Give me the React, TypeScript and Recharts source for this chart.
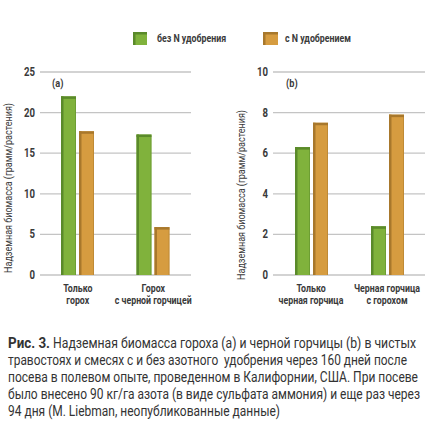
import React from 'react';
import { BarChart, Bar, XAxis, YAxis, CartesianGrid } from 'recharts';

const categoriesA = ['Только|горох', 'Горох|с черной горчицей'];
const peaWithoutN = [22.0, 17.3];
const peaWithN = [17.7, 5.9];
const ticksA = [0, 5, 10, 15, 20, 25];

const categoriesB = ['Только|черная горчица', 'Черная горчица|с горохом'];
const mustardWithoutN = [6.3, 2.4];
const mustardWithN = [7.5, 7.9];
const ticksB = [0, 2, 4, 6, 8, 10];

const legendLabels = ['без N удобрения', 'с N удобрением'];
const yAxisLabel = 'Надземная биомасса (грамм/растения)';
const captionBold = 'Рис. 3.';
const captionLines = [
  'Надземная биомасса гороха (a) и черной горчицы (b) в чистых',
  'травостоях и смесях с и без азотного  удобрения через 160 дней после',
  'посева в полевом опыте, проведенном в Калифорнии, США. При посеве',
  'было внесено 90 кг/га азота (в виде сульфата аммония) и еще раз через',
  '94 дня (M. Liebman, неопубликованные данные)',
];
// layout: start x and rendered width of each caption line (px)
const captionStarts = [53, 8, 8, 8, 8];
const captionWidths = [363, 399, 410, 412, 272];

const dataA = categoriesA.map((c, i) => ({ name: c, noN: peaWithoutN[i], withN: peaWithN[i] }));
const dataB = categoriesB.map((c, i) => ({ name: c, noN: mustardWithoutN[i], withN: mustardWithN[i] }));

const FONT = "Roboto, 'Liberation Sans', sans-serif";
const TXT = '#3a3a3a';
const SX = 0.8;
const CAP_SX = 0.74;
const GREEN = '#80b23c';
const GREEN_DARK = '#5a8a2a';
const ORANGE = '#d69c40';
const ORANGE_DARK = '#a8782c';

const makeShape = (fill: string, dark: string) => (props: any) => {
  const { x, y, width, height } = props;
  if (!height || height <= 0) return null;
  return (
    <g>
      <rect x={x} y={y} width={width} height={height} fill={fill} />
      <rect x={x} y={y} width={2.5} height={height} fill={dark} />
      <rect x={x} y={y} width={width} height={2.5} fill={dark} />
      <rect x={x + width - 1} y={y + 2} width={1} height={height - 2} fill={dark} opacity={0.5} />
    </g>
  );
};

const Cond = ({ x, y, sx = SX, children, ...rest }: any) => (
  <g transform={`translate(${x},${y}) scale(${sx},1)`}>
    <text x={0} y={0} fontFamily={FONT} fill={TXT} {...rest}>{children}</text>
  </g>
);

const CatTick = (props: any) => {
  const { x, y, payload } = props;
  const lines = String(payload.value).split('|');
  return (
    <g>
      {lines.map((l, i) => (
        <Cond key={i} x={x} y={y + 9 + i * 12} textAnchor="middle" fontSize={11} fontWeight="bold">{l}</Cond>
      ))}
    </g>
  );
};

const NumTick = (props: any) => {
  const { x, y, payload } = props;
  return (
    <Cond x={x} y={y + 4} textAnchor="end" fontSize={12} fontWeight="bold">{payload.value}</Cond>
  );
};

const Panel = ({ data, ticks, max, yWidth, width }: any) => (
  <BarChart
    width={width}
    height={310}
    data={data}
    margin={{ top: 72, right: 6, bottom: 5, left: 0 }}
    barSize={15}
    barGap={3}
  >
    <CartesianGrid horizontal vertical={false} stroke="#c4c4c4" strokeWidth={1.3} />
    <XAxis dataKey="name" axisLine={false} tickLine={false} tick={<CatTick />} height={30} interval={0} />
    <YAxis
      domain={[0, max]}
      ticks={ticks}
      axisLine={false}
      tickLine={false}
      tickSize={0}
      tickMargin={5}
      width={yWidth}
      tick={<NumTick />}
      interval={0}
    />
    <Bar dataKey="noN" fill={GREEN} isAnimationActive={false} shape={makeShape(GREEN, GREEN_DARK)} />
    <Bar dataKey="withN" fill={ORANGE} isAnimationActive={false} shape={makeShape(ORANGE, ORANGE_DARK)} />
  </BarChart>
);

export default function App() {
  return (
    <div style={{ position: 'absolute', left: 0, top: 0, width: 431, height: 429, background: '#fff', overflow: 'hidden' }}>
      <div style={{ position: 'absolute', left: 0, top: 0 }}>
        <Panel data={dataA} ticks={ticksA} max={25} yWidth={40} width={197} />
      </div>
      <div style={{ position: 'absolute', left: 230, top: 0 }}>
        <Panel data={dataB} ticks={ticksB} max={10} yWidth={43} width={201} />
      </div>
      <svg style={{ position: 'absolute', left: 0, top: 0 }} width={431} height={429}>
        {/* legend */}
        <rect x={133} y={32} width={14} height={13} fill={GREEN} />
        <rect x={133} y={32} width={2.5} height={13} fill={GREEN_DARK} />
        <rect x={133} y={32} width={14} height={2.5} fill={GREEN_DARK} />
        <Cond x={157} y={42} fontSize={11} fontWeight="bold">{legendLabels[0]}</Cond>
        <rect x={263} y={32} width={15} height={13} fill={ORANGE} />
        <rect x={263} y={32} width={2.5} height={13} fill={ORANGE_DARK} />
        <rect x={263} y={32} width={15} height={2.5} fill={ORANGE_DARK} />
        <Cond x={285} y={42} fontSize={11} fontWeight="bold">{legendLabels[1]}</Cond>
        {/* panel tags */}
        <Cond x={52} y={87} fontSize={11.5} fontWeight="bold">(a)</Cond>
        <Cond x={286} y={87} fontSize={11.5} fontWeight="bold">(b)</Cond>
        {/* y axis labels */}
        <g transform="translate(12,188) rotate(-90) scale(0.85,1)">
          <text x={0} y={0} textAnchor="middle" fontFamily={FONT} fontSize={11.5} fill={TXT} textLength={200} lengthAdjust="spacingAndGlyphs">{yAxisLabel}</text>
        </g>
        <g transform="translate(245,195) rotate(-90) scale(0.85,1)">
          <text x={0} y={0} textAnchor="middle" fontFamily={FONT} fontSize={11.5} fill={TXT} textLength={200} lengthAdjust="spacingAndGlyphs">{yAxisLabel}</text>
        </g>
        {/* caption */}
        <Cond x={8} y={348} sx={CAP_SX} fontSize={15.5} fontWeight="bold" fill="#333" textLength={42 / CAP_SX} lengthAdjust="spacingAndGlyphs">{captionBold}</Cond>
        {captionLines.map((l, i) => (
          <Cond key={i} x={captionStarts[i]} y={348 + i * 17} sx={CAP_SX} fontSize={15.5} fill="#333" textLength={captionWidths[i] / CAP_SX} lengthAdjust="spacingAndGlyphs" style={{ whiteSpace: 'pre' }}>
            {l}
          </Cond>
        ))}
      </svg>
    </div>
  );
}
